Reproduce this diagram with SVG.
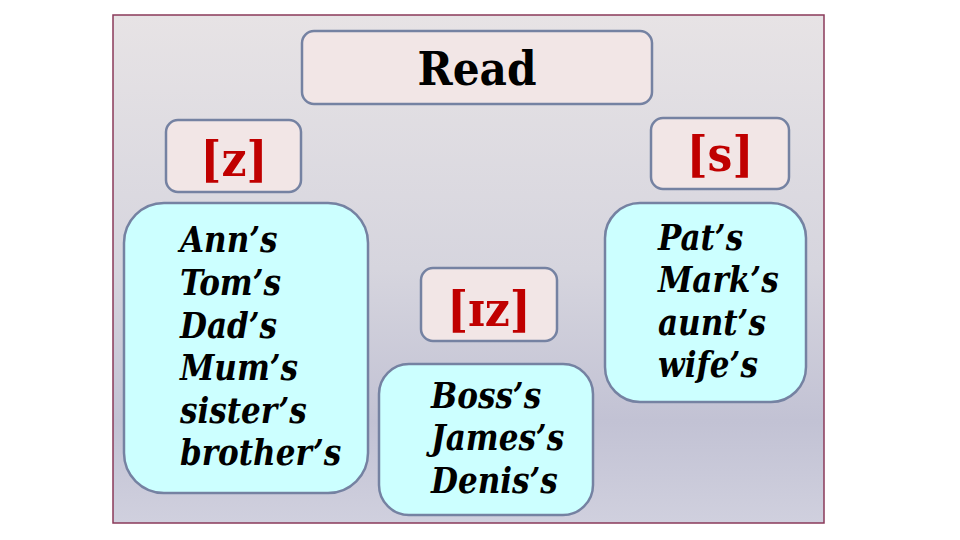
<svg xmlns="http://www.w3.org/2000/svg" width="960" height="540" viewBox="0 0 960 540">
<defs>
<linearGradient id="bg" x1="0" y1="0" x2="0" y2="1">
<stop offset="0" stop-color="#e7e3e5"/>
<stop offset="0.5" stop-color="#d6d5de"/>
<stop offset="0.8" stop-color="#c2c2d4"/>
<stop offset="1" stop-color="#d0d0de"/>
</linearGradient>
<style>
.hd{fill:#f2e6e6;stroke:#7582a2;stroke-width:2.5}
.bx{fill:#ccffff;stroke:#7582a2;stroke-width:2.5}
.t{font-family:"DejaVu Serif Condensed","DejaVu Serif",serif;font-stretch:condensed;font-weight:bold;font-style:italic;font-size:34.5px;fill:#000}
.ph{font-family:"DejaVu Serif Condensed","DejaVu Serif",serif;font-stretch:condensed;font-weight:bold;font-size:49px;fill:#c00000;text-anchor:middle}
</style>
</defs>
<rect width="960" height="540" fill="#ffffff"/>
<rect x="113" y="15" width="711" height="508" fill="url(#bg)" stroke="#8a3a5a" stroke-width="1.5"/>
<g id="read">
<rect class="hd" x="302" y="31" width="350" height="73" rx="12"/>
<text x="477" y="85" font-family="DejaVu Serif Condensed,DejaVu Serif,serif" font-stretch="condensed" font-weight="bold" font-size="47" text-anchor="middle" fill="#000">Read</text>
</g>
<g id="z">
<rect class="hd" x="166" y="120" width="135" height="72" rx="12"/>
<text class="ph" x="234" y="176">[z]</text>
</g>
<g id="s">
<rect class="hd" x="651" y="118" width="138" height="71" rx="12"/>
<text class="ph" x="720" y="171">[s]</text>
</g>
<g id="iz">
<rect class="hd" x="421" y="268" width="136" height="73" rx="12"/>
<text class="ph" x="489" y="326">[ɪz]</text>
</g>
<g id="list-z">
<rect class="bx" x="124" y="203" width="244" height="290" rx="40"/>
<text class="t" x="180" y="252">Ann’s</text>
<text class="t" x="180" y="295">Tom’s</text>
<text class="t" x="180" y="338">Dad’s</text>
<text class="t" x="180" y="380">Mum’s</text>
<text class="t" x="180" y="423">sister’s</text>
<text class="t" x="180" y="465">brother’s</text>
</g>
<g id="list-iz">
<rect class="bx" x="379" y="364" width="214" height="151" rx="30"/>
<text class="t" x="431" y="408">Boss’s</text>
<text class="t" x="431" y="450">James’s</text>
<text class="t" x="431" y="493">Denis’s</text>
</g>
<g id="list-s">
<rect class="bx" x="605" y="203" width="201" height="199" rx="35"/>
<text class="t" x="658" y="250">Pat’s</text>
<text class="t" x="658" y="292">Mark’s</text>
<text class="t" x="658" y="335">aunt’s</text>
<text class="t" x="658" y="377">wife’s</text>
</g>
<g id="connectors"/>
</svg>
